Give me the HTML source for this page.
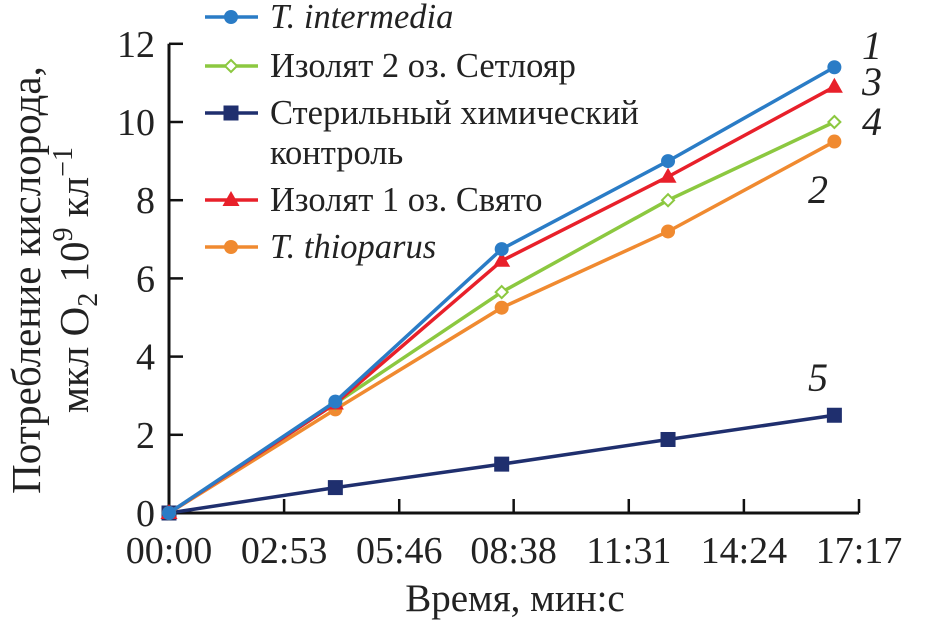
<!DOCTYPE html>
<html><head><meta charset="utf-8"><style>
body{margin:0;background:#fff}
svg{display:block;font-family:"Liberation Serif",serif}
</style></head><body>
<svg id="chart" width="930" height="622" viewBox="0 0 930 622"></svg>
<script>
const times=[0,250,500,750,1000];
const seriesNames=["T. intermedia","Изолят 2 оз. Сетлояр","Стерильный химический контроль","Изолят 1 оз. Свято","T. thioparus"];
const sIntermedia=[0,2.85,6.75,9.0,11.4];
const sIsolate2=[0,2.8,5.65,8.0,10.0];
const sSterile=[0,0.65,1.25,1.88,2.5];
const sIsolate1=[0,2.8,6.45,8.6,10.9];
const sThioparus=[0,2.65,5.25,7.2,9.5];
const yTicks=[0,2,4,6,8,10,12];
const xTickSec=[0,173,346,518,691,864,1037];
const xTickLabels=["00:00","02:53","05:46","08:38","11:31","14:24","17:17"];
const NS="http://www.w3.org/2000/svg";
const svg=document.getElementById('chart');
function X(s){return 169+(s/1037)*690;}
function Y(v){return 513-v*39.1;}
function mk(t,a,p){const e=document.createElementNS(NS,t);for(const k in a)e.setAttribute(k,a[k]);(p||svg).appendChild(e);return e;}
let ax=mk('line',{x1:169,y1:Y(12),x2:169,y2:514.5,stroke:'#111','stroke-width':3});


let bx=mk('line',{x1:167.5,y1:513,x2:X(1037),y2:513,stroke:'#111','stroke-width':3});


yTicks.forEach(v=>{
 mk('line',{x1:169,y1:Y(v),x2:183,y2:Y(v),stroke:'#111','stroke-width':2.5});
 const t=mk('text',{x:155,y:Y(v)+13,'text-anchor':'end','font-size':38,fill:'#222'});t.textContent=v;
 
 
});
xTickSec.forEach((s,i)=>{
 if(i>0)mk('line',{x1:X(s),y1:513,x2:X(s),y2:499,stroke:'#111','stroke-width':2.5});
 const t=mk('text',{x:X(s),y:563,'text-anchor':'middle','font-size':38,fill:'#222'});t.textContent=xTickLabels[i];
 
 
});
let xt=mk('text',{x:515,y:611,'text-anchor':'middle','font-size':39,fill:'#222'});xt.textContent="Время, мин:с";


let yt=mk('text',{transform:'translate(40,280) rotate(-90)','text-anchor':'middle','font-size':41,fill:'#222'});
yt.innerHTML='Потребление кислорода,';


let yt2=mk('text',{transform:'translate(88,280) rotate(-90)','text-anchor':'middle','font-size':41,fill:'#222'});
yt2.innerHTML='мкл O<tspan font-size="28" dy="9">2</tspan><tspan dy="-9"> 10</tspan><tspan font-size="28" dy="-16">9</tspan><tspan dy="16"> кл</tspan><tspan font-size="28" dy="-16">−1</tspan>';


const series=[
 {d:sSterile,c:'#1f2f6e',m:'square',n:'series-sterile-control'},
 {d:sThioparus,c:'#f08a30',m:'circle',n:'series-t-thioparus'},
 {d:sIsolate2,c:'#8cc840',m:'diamond',n:'series-isolate-2'},
 {d:sIsolate1,c:'#e8202a',m:'triangle',n:'series-isolate-1'},
 {d:sIntermedia,c:'#2a7cc6',m:'circle',n:'series-t-intermedia'}
];
function marker(m,x,y,c,g){
 if(m==='circle')mk('circle',{cx:x,cy:y,r:7,fill:c},g);
 else if(m==='square')mk('rect',{x:x-7.5,y:y-7.5,width:15,height:15,fill:c},g);
 else if(m==='triangle')mk('polygon',{points:`${x},${y-9} ${x+8.5},${y+6} ${x-8.5},${y+6}`,fill:c},g);
 else mk('polygon',{points:`${x},${y-6} ${x+6},${y} ${x},${y+6} ${x-6},${y}`,fill:'#fff',stroke:c,'stroke-width':2},g);
}
series.forEach(s=>{
 const g=mk('g',{});
 
 
 mk('polyline',{points:s.d.map((v,i)=>X(times[i])+','+Y(v)).join(' '),fill:'none',stroke:s.c,'stroke-width':3.5},g);
 s.d.forEach((v,i)=>marker(s.m,X(times[i]),Y(v),s.c,g));
});
const leg=[
 {c:'#2a7cc6',m:'circle',y:17,t:'T. intermedia',it:true},
 {c:'#8cc840',m:'diamond',y:66,t:'Изолят 2 оз. Сетлояр'},
 {c:'#1f2f6e',m:'square',y:113,t:'Стерильный химический',t2:'контроль'},
 {c:'#e8202a',m:'triangle',y:200,t:'Изолят 1 оз. Свято'},
 {c:'#f08a30',m:'circle',y:247,t:'T. thioparus',it:true}
];
leg.forEach(l=>{
 const g=mk('g',{});
 
 
 mk('line',{x1:205,y1:l.y,x2:258,y2:l.y,stroke:l.c,'stroke-width':3.5},g);
 marker(l.m,231,l.y,l.c,g);
 const t=mk('text',{x:270,y:l.y+11,'font-size':34.5,fill:'#222','font-style':l.it?'italic':'normal'},g);t.textContent=l.t;
 if(l.t2){const t2=mk('text',{x:270,y:l.y+51,'font-size':34.5,fill:'#222'},g);t2.textContent=l.t2;}
});
[['1',872,59],['3',872,95],['4',872,135],['2',818,203],['5',818,391]].forEach(a=>{
 const t=mk('text',{x:a[1],y:a[2],'font-size':40,'font-style':'italic',fill:'#222','text-anchor':'middle'});t.textContent=a[0];
 
 
});
</script>
</body></html>
